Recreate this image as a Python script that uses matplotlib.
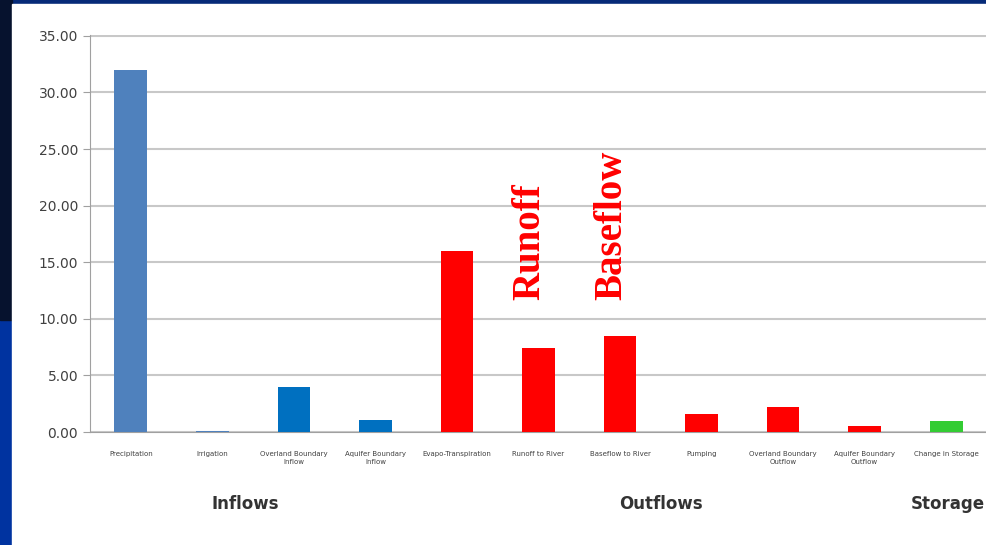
import matplotlib.pyplot as plt
from matplotlib.patches import Rectangle

# bar data
categories = ['Precipitation', 'Irrigation', 'Overland Boundary\nInflow', 'Aquifer Boundary\nInflow',
              'Evapo-Transpiration', 'Runoff to River', 'Baseflow to River', 'Pumping',
              'Overland Boundary\nOutflow', 'Aquifer Boundary\nOutflow', 'Change in Storage']
values = [32.0, 0.1, 4.0, 1.05, 16.0, 7.4, 8.5, 1.55, 2.2, 0.5, 0.95]
colors = ['#4f81bd', '#4f81bd', '#0070c0', '#0070c0', '#ff0000', '#ff0000', '#ff0000',
          '#ff0000', '#ff0000', '#ff0000', '#33cc33']
yticks = [0, 5, 10, 15, 20, 25, 30, 35]

groups = ['Inflows', 'Outflows', 'Storage']
group_pos = [1.4, 6.5, 10.02]

fig = plt.figure(figsize=(9.86, 5.45), dpi=100)
fig.patch.set_facecolor('#062a78')

# slide background pieces
fig.patches.append(Rectangle((0, 0), 12 / 986, 1 - 320 / 545, transform=fig.transFigure,
                             color='#0033a0', zorder=-2))
fig.patches.append(Rectangle((0, 1 - 320 / 545), 12 / 986, 320 / 545, transform=fig.transFigure,
                             color='#06122e', zorder=-2))
fig.patches.append(Rectangle((12 / 986, 0), 1, 1 - 4 / 545, transform=fig.transFigure,
                             color='white', zorder=-2))

ax = fig.add_axes([90 / 986, 1 - 432 / 545, 897 / 986, 397 / 545])
ax.set_zorder(5)
ax.patch.set_alpha(0)
x = range(len(categories))
ax.bar(x, values, width=0.4, color=colors, zorder=3)

ax.set_xlim(-0.5, 10.5)
ax.set_ylim(0, 35.08)
ax.set_yticks(yticks)
ax.set_yticklabels(['%.2f' % v for v in yticks], fontsize=10, color='#404040')
ax.yaxis.grid(True, color='#c8c8c8', linewidth=1.5, zorder=0)
ax.set_xticks(list(x))
ax.set_xticklabels(categories, fontsize=5, color='#404040', linespacing=1.3)
ax.tick_params(axis='x', length=0, pad=14)
ax.tick_params(axis='y', length=5, color='#a0a0a0')

for side in ['top', 'right']:
    ax.spines[side].set_visible(False)
ax.spines['left'].set_color('#a0a0a0')
ax.spines['bottom'].set_color('#a0a0a0')

for g, p in zip(groups, group_pos):
    ax.text(p, -6.4, g, fontsize=12, fontweight='bold', color='#333333',
            ha='center', va='center')

ax.text(4.9, 11.7, 'Runoff', rotation=90, color='red', fontsize=28, fontweight='bold',
        family='Liberation Serif', ha='center', va='bottom')
ax.text(5.9, 11.7, 'Baseflow', rotation=90, color='red', fontsize=28, fontweight='bold',
        family='Liberation Serif', ha='center', va='bottom')

fig.savefig('out.png', dpi=100, facecolor=fig.get_facecolor())
